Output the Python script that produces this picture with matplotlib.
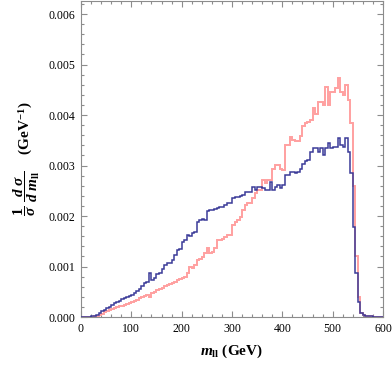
import numpy as np
import matplotlib
matplotlib.use('Agg')
import matplotlib.pyplot as plt
from matplotlib.ticker import MultipleLocator

# bin edges of the m_ll histogram (GeV), 5 GeV bins
bin_edges = np.arange(0, 605, 5)

# normalised distribution, pink series
pink_vals = [
    0, 0, 0, 0, 0.000003, 0.00001, 0.00002, 0.00004, 0.00006, 0.00009,
    0.00012, 0.00014, 0.00016, 0.00017, 0.00019, 0.00021, 0.00022, 0.00024, 0.00026, 0.00027,
    0.00030, 0.00031, 0.00034, 0.00037, 0.00040, 0.00042, 0.00044, 0.00040, 0.00047, 0.00050,
    0.00053, 0.00055, 0.00057, 0.00061, 0.00063, 0.00066, 0.00067, 0.00070, 0.00073, 0.00075,
    0.00077, 0.00080, 0.00087, 0.00100, 0.00098, 0.00103, 0.00113, 0.00115, 0.00119, 0.00126,
    0.00136, 0.00126, 0.00128, 0.00136, 0.00152, 0.00153, 0.00155, 0.00158, 0.00162, 0.00163,
    0.00182, 0.00189, 0.00192, 0.00199, 0.00212, 0.00222, 0.00225, 0.00225, 0.00235, 0.00245,
    0.00251, 0.00251, 0.00271, 0.00265, 0.00271, 0.00271, 0.00294, 0.00301, 0.00301, 0.00294,
    0.00291, 0.00340, 0.00340, 0.00357, 0.00351, 0.00348, 0.00348, 0.00358, 0.00378, 0.00384,
    0.00387, 0.00390, 0.00413, 0.00403, 0.00426, 0.00426, 0.00420, 0.00456, 0.00420, 0.00446,
    0.00446, 0.00453, 0.00473, 0.00446, 0.00440, 0.00460, 0.00430, 0.00384, 0.00260, 0.00120,
    0.00040, 0.00007, 0.00003, 0.00002, 0.00001, 0.00001, 0, 0, 0, 0,
]

# normalised distribution, blue series
blue_vals = [
    0, 0, 0, 0, 0.00001, 0.00002, 0.00004, 0.00008, 0.00011, 0.00014,
    0.00017, 0.00020, 0.00023, 0.00027, 0.00030, 0.00032, 0.00035, 0.00037, 0.00039, 0.00041,
    0.00044, 0.00047, 0.00052, 0.00056, 0.00062, 0.00067, 0.00070, 0.00087, 0.00073, 0.00078,
    0.00086, 0.00087, 0.00096, 0.00103, 0.00106, 0.00106, 0.00113, 0.00123, 0.00133, 0.00135,
    0.00149, 0.00152, 0.00162, 0.00160, 0.00166, 0.00169, 0.00189, 0.00192, 0.00195, 0.00193,
    0.00209, 0.00212, 0.00212, 0.00214, 0.00216, 0.00218, 0.00218, 0.00222, 0.00225, 0.00225,
    0.00235, 0.00238, 0.00238, 0.00240, 0.00242, 0.00248, 0.00248, 0.00248, 0.00258, 0.00252,
    0.00258, 0.00258, 0.00255, 0.00252, 0.00252, 0.00268, 0.00252, 0.00258, 0.00261, 0.00255,
    0.00261, 0.00281, 0.00281, 0.00288, 0.00288, 0.00285, 0.00288, 0.00294, 0.00304, 0.00308,
    0.00311, 0.00327, 0.00334, 0.00334, 0.00327, 0.00334, 0.00320, 0.00334, 0.00344, 0.00334,
    0.00337, 0.00337, 0.00354, 0.00340, 0.00337, 0.00354, 0.00327, 0.00285, 0.00179, 0.00087,
    0.00030, 0.00007, 0.00003, 0.00002, 0.00001, 0.00001, 0, 0, 0, 0,
]

plt.rcParams['font.family'] = ['Liberation Serif', 'DejaVu Serif']
plt.rcParams['mathtext.fontset'] = 'custom'
plt.rcParams['mathtext.rm'] = 'Liberation Serif:bold'
plt.rcParams['mathtext.bf'] = 'Liberation Serif:bold'
plt.rcParams['mathtext.it'] = 'Liberation Serif:bold:italic'

frame_col = '#8c8c8c'

fig = plt.figure(figsize=(3.92, 3.65), dpi=100)
ax = fig.add_axes([0.2066, 0.1315, 0.7704, 0.866])

ax.stairs(pink_vals, bin_edges, color='#ffa0a0', lw=1.4, zorder=2)
ax.stairs(blue_vals, bin_edges, color='#3b3b98', lw=1.1, zorder=3)

ax.set_xlim(0, 600)
ax.set_ylim(0, 0.00626)

ax.xaxis.set_major_locator(MultipleLocator(100))
ax.xaxis.set_minor_locator(MultipleLocator(20))
ax.yaxis.set_major_locator(MultipleLocator(0.001))
ax.yaxis.set_minor_locator(MultipleLocator(0.0002))
ax.yaxis.set_major_formatter(matplotlib.ticker.FormatStrFormatter('%.3f'))

ax.tick_params(which='both', direction='in', top=True, right=True,
               color=frame_col, labelsize=8.5, labelcolor='black', width=0.8)
ax.tick_params(which='major', length=4, pad=4)
ax.tick_params(which='minor', length=2)
for sp in ax.spines.values():
    sp.set_color(frame_col)
    sp.set_linewidth(0.8)

ax.set_xlabel(r'$m_{\mathrm{ll}}$ (GeV)', fontsize=11, fontweight='bold', labelpad=6)
ax.set_ylabel(r'$\dfrac{1}{\sigma}\ \dfrac{d\ \sigma}{d\ m_{\mathrm{ll}}}\quad\ (\mathrm{GeV}^{-1})$',
              fontsize=11, labelpad=5)

fig.savefig('out.png', dpi=100)
